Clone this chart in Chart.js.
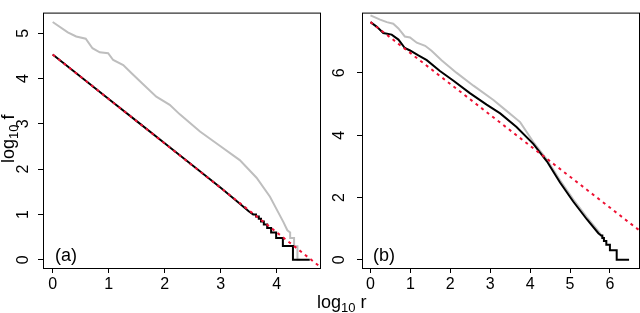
<!DOCTYPE html>
<html>
<head>
<meta charset="utf-8">
<script src="https://cdn.jsdelivr.net/npm/chart.js@4/dist/chart.umd.min.js"></script>
<style>
  body { margin: 0; background: #fff; }
  #wrap { position: relative; width: 640px; height: 313px; font-family: "Liberation Sans", Arial, sans-serif; }
  canvas { position: absolute; top: 0; }
  #xlabel { position: absolute; left: 317px; top: 293px; font-size: 18px; line-height: 18px; color: #000; white-space: nowrap; }
  #xlabel .sub { font-size: 13px; position: relative; top: 4px; }
</style>
</head>
<body>
<div id="wrap">
  <canvas id="chart-a" width="330" height="313" style="left:0"></canvas>
  <canvas id="chart-b" width="310" height="313" style="left:330px"></canvas>
  <div id="xlabel">log<span class="sub">10</span> r</div>
</div>
<script>
// panel (a)
const aGrayX = [0, 0.27, 0.42, 0.59, 0.71, 0.84, 0.99, 1.08, 1.26, 1.40, 1.61, 1.85, 2.09, 2.27, 2.63, 2.99, 3.34, 3.64, 3.88, 4.03, 4.12, 4.19, 4.24, 4.24, 4.31, 4.31, 4.37, 4.37, 4.42];
const aGrayY = [5.25, 5.02, 4.93, 4.88, 4.67, 4.58, 4.56, 4.41, 4.30, 4.13, 3.88, 3.60, 3.42, 3.21, 2.83, 2.51, 2.20, 1.81, 1.39, 1.04, 0.83, 0.65, 0.60, 0.48, 0.48, 0.30, 0.30, 0, 0];
const aBlackX = [0, 0.5, 1, 1.5, 2, 2.5, 3, 3.3, 3.5, 3.58, 3.63, 3.63, 3.68, 3.68, 3.72, 3.72, 3.77, 3.77, 3.83, 3.83, 3.90, 3.90, 3.99, 3.99, 4.11, 4.11, 4.29, 4.29, 4.59];
const aBlackY = [4.53, 4.04, 3.55, 3.06, 2.57, 2.08, 1.59, 1.28, 1.07, 1.0, 1.0, 0.954, 0.954, 0.903, 0.903, 0.845, 0.845, 0.778, 0.778, 0.699, 0.699, 0.602, 0.602, 0.477, 0.477, 0.301, 0.301, 0, 0];
const aFitX = [0, 4.85];
const aFitY = [4.53, -0.23];
const aXTicks = [0, 1, 2, 3, 4];
const aYTicks = [0, 1, 2, 3, 4, 5];

// panel (b)
const bGrayX = [0, 0.24, 0.41, 0.57, 0.70, 0.86, 0.99, 1.16, 1.37, 1.53, 1.78, 2.16, 2.58, 3.08, 3.41, 3.75, 4.08, 4.42, 4.75, 5.08, 5.42, 5.71, 5.85];
const bGrayY = [7.85, 7.71, 7.63, 7.58, 7.43, 7.17, 7.14, 6.97, 6.87, 6.71, 6.41, 6.00, 5.59, 5.13, 4.78, 4.42, 3.78, 3.22, 2.55, 1.94, 1.37, 0.92, 0.66];
const bBlackX = [0, 0.16, 0.32, 0.53, 0.70, 0.86, 0.99, 1.20, 1.41, 1.74, 2.08, 2.49, 2.91, 3.25, 3.66, 4.08, 4.42, 4.75, 5.08, 5.42, 5.71, 5.78, 5.81, 5.81, 5.85, 5.85, 5.91, 5.91, 6.0, 6.0, 6.17, 6.17, 6.48];
const bBlackY = [7.63, 7.48, 7.28, 7.23, 7.07, 6.80, 6.72, 6.56, 6.41, 6.06, 5.75, 5.35, 4.98, 4.70, 4.26, 3.72, 3.16, 2.48, 1.87, 1.30, 0.85, 0.78, 0.78, 0.70, 0.70, 0.60, 0.60, 0.477, 0.477, 0.301, 0.301, 0, 0];
const bFitX = [0, 6.8];
const bFitY = [7.63, 0.88];
const bXTicks = [0, 1, 2, 3, 4, 5, 6];
const bYTicks = [0, 2, 4, 6];

const FONT = '"Liberation Sans", Arial, sans-serif';
const zip = (xs, ys) => xs.map((x, i) => ({ x, y: ys[i] }));

// box, rotated y tick labels, panel tag, optional y title
const framePlugin = (yTicks, labelGap, tag, tagX, yTitle) => ({
  id: 'frame',
  afterDraw(chart) {
    const { ctx, chartArea: a } = chart;
    const ys = chart.scales.y;
    ctx.save();
    ctx.strokeStyle = '#000';
    ctx.lineWidth = 1;
    ctx.strokeRect(a.left + 0.5, a.top + 0.5, a.right - a.left, a.bottom - a.top);
    ctx.fillStyle = '#000';
    ctx.font = `16px ${FONT}`;
    ctx.textAlign = 'center';
    ctx.textBaseline = 'alphabetic';
    yTicks.forEach((v) => {
      ctx.save();
      ctx.translate(a.left - labelGap, ys.getPixelForValue(v));
      ctx.rotate(-Math.PI / 2);
      ctx.fillText(String(v), 0, 0);
      ctx.restore();
    });
    ctx.textAlign = 'left';
    ctx.font = `18px ${FONT}`;
    ctx.fillText(tag, tagX, 261);
    if (yTitle) {
      ctx.translate(14, 163);
      ctx.rotate(-Math.PI / 2);
      let w = 0;
      ctx.fillText('log', w, 0);
      w += ctx.measureText('log').width;
      ctx.font = `13px ${FONT}`;
      ctx.fillText('10', w, 4);
      w += ctx.measureText('10').width;
      ctx.font = `18px ${FONT}`;
      ctx.fillText(' f', w, 0);
    }
    ctx.restore();
  },
});

function makePanel(el, opts) {
  return new Chart(el, {
    type: 'line',
    data: {
      datasets: [
        { data: zip(opts.fitX, opts.fitY), borderColor: '#ee1133', borderWidth: 2, borderDash: [3, 4], clip: 0 },
        { data: zip(opts.blackX, opts.blackY), borderColor: '#000', borderWidth: 2 },
        { data: zip(opts.grayX, opts.grayY), borderColor: '#bebebe', borderWidth: 2 },
      ],
    },
    options: {
      responsive: false,
      animation: false,
      events: [],
      elements: { point: { radius: 0 }, line: { tension: 0, borderCapStyle: 'butt', borderJoinStyle: 'miter' } },
      layout: { padding: { left: 0, right: opts.padRight, top: 0, bottom: 0 } },
      plugins: { legend: { display: false }, tooltip: { enabled: false } },
      scales: {
        x: {
          type: 'linear',
          min: opts.xMin,
          max: opts.xMax,
          afterBuildTicks: (s) => { s.ticks = opts.xTicks.map((value) => ({ value })); },
          afterFit: (s) => { s.height = 45; },
          grid: { drawOnChartArea: false, drawTicks: true, tickLength: 5, color: '#000', tickColor: '#000' },
          border: { display: false },
          ticks: { color: '#000', padding: 2, maxRotation: 0, font: { family: FONT, size: 16 } },
        },
        y: {
          type: 'linear',
          min: opts.yMin,
          max: opts.yMax,
          afterBuildTicks: (s) => { s.ticks = opts.yTicks.map((value) => ({ value })); },
          afterFit: (s) => { s.width = opts.yWidth; },
          grid: { drawOnChartArea: false, drawTicks: true, tickLength: 5, color: '#000', tickColor: '#000' },
          border: { display: false },
          ticks: { color: 'rgba(0,0,0,0)', font: { family: FONT, size: 16 } },
        },
      },
    },
    plugins: [framePlugin(opts.yTicks, opts.labelGap, opts.tag, opts.tagX, opts.yTitle)],
  });
}

makePanel(document.getElementById('chart-a'), {
  grayX: aGrayX, grayY: aGrayY, blackX: aBlackX, blackY: aBlackY, fitX: aFitX, fitY: aFitY,
  xTicks: aXTicks, yTicks: aYTicks,
  xMin: -0.173, xMax: 4.773, yMin: -0.183, yMax: 5.457,
  yWidth: 43, padRight: 10, labelGap: 15.5, tag: '(a)', tagX: 55, yTitle: true,
});

makePanel(document.getElementById('chart-b'), {
  grayX: bGrayX, grayY: bGrayY, blackX: bBlackX, blackY: bBlackY, fitX: bFitX, fitY: bFitY,
  xTicks: bXTicks, yTicks: bYTicks,
  xMin: -0.213, xMax: 6.729, yMin: -0.266, yMax: 7.937,
  yWidth: 32, padRight: 1, labelGap: 18, tag: '(b)', tagX: 43, yTitle: false,
});
</script>
</body>
</html>
